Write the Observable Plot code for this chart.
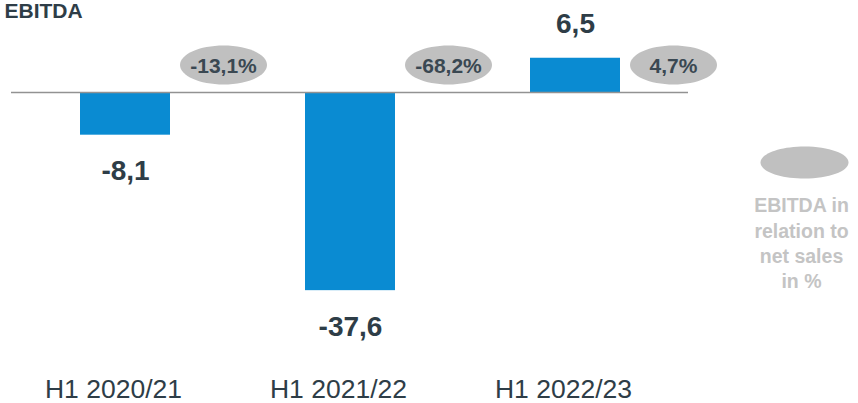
<!DOCTYPE html>
<html>
<head>
<meta charset="utf-8">
<script src="https://cdn.jsdelivr.net/npm/d3@7"></script>
<script src="https://cdn.jsdelivr.net/npm/@observablehq/plot@0.6"></script>
<style>
  html, body { margin: 0; padding: 0; background: #fff; }
  #chart { width: 858px; height: 403px; overflow: hidden; }
</style>
</head>
<body>
<div id="chart"></div>
<script>
const title = "EBITDA";
const periods = ["H1 2020/21", "H1 2021/22", "H1 2022/23"];
const ebitda = [-8.1, -37.6, 6.5];
const margins = [-13.1, -68.2, 4.7];
const legendText = "EBITDA in\nrelation to\nnet sales\nin %";

const fmt = v => v.toFixed(1).replace(".", ",");
const data = periods.map((p, i) => ({period: p, value: ebitda[i], pct: margins[i]}));

function ellipseSymbol(rx, ry) {
  const k = 0.5523;
  return {
    draw(ctx) {
      const kx = rx * k, ky = ry * k;
      ctx.moveTo(rx, 0);
      ctx.bezierCurveTo(rx, ky, kx, ry, 0, ry);
      ctx.bezierCurveTo(-kx, ry, -rx, ky, -rx, 0);
      ctx.bezierCurveTo(-rx, -ky, -kx, -ry, 0, -ry);
      ctx.bezierCurveTo(kx, -ry, rx, -ky, rx, 0);
      ctx.closePath();
    }
  };
}

const dark = "#2e3d47";
const grayFill = "#c0c0c0";

const chart = Plot.plot({
  width: 858,
  height: 403,
  marginLeft: 11,
  marginRight: 170,
  marginTop: 0,
  marginBottom: 0,
  style: {fontFamily: "'Liberation Sans', Arial, sans-serif", background: "#fff", overflow: "visible"},
  x: {domain: periods, paddingInner: 0.6, paddingOuter: 0.3, axis: null},
  y: {domain: [-50, 15], range: [355.5, 12.95], axis: null},
  marks: [
    Plot.barY(data, {x: "period", y: "value", fill: "#0a8bd2"}),
    Plot.ruleY([0], {stroke: "#929292", strokeWidth: 1.6}),
    // value labels
    Plot.text(data.filter(d => d.value < 0), {x: "period", y: "value", text: d => fmt(d.value),
      lineAnchor: "top", dy: 25, fontSize: 28, fontWeight: "bold", fill: dark}),
    Plot.text(data.filter(d => d.value >= 0), {x: "period", y: "value", text: d => fmt(d.value),
      lineAnchor: "bottom", dy: -25, fontSize: 28, fontWeight: "bold", fill: dark}),
    // percentage ellipses
    Plot.dot(data, {x: "period", frameAnchor: "top", dy: 64.5, dx: 98,
      symbol: ellipseSymbol(43.5, 19.5), r: 10, fill: grayFill, stroke: "none"}),
    Plot.text(data, {x: "period", frameAnchor: "top", lineAnchor: "middle", dy: 65.5, dx: 98, text: d => fmt(d.pct) + "%",
      fontSize: 21, fontWeight: "bold", fill: "#3a4852"}),
    // category labels
    Plot.text(data, {x: "period", text: "period", frameAnchor: "bottom", lineAnchor: "bottom",
      dy: -6, dx: -12, fontSize: 26.5, fill: dark}),
    // legend
    Plot.dot([legendText], {frameAnchor: "top-right", dx: 116, dy: 162,
      symbol: ellipseSymbol(44, 16), r: 10, fill: grayFill, stroke: "none"}),
    Plot.text([legendText], {frameAnchor: "top-right", dx: 113, dy: 194, text: d => d,
      lineAnchor: "top", lineHeight: 1.29, textAnchor: "middle", fontSize: 19.5, fontWeight: "bold", fill: "#c4c4c4"}),
    // title
    Plot.text([title], {frameAnchor: "top-left", dx: -7, dy: 3, text: d => d, lineAnchor: "top",
      textAnchor: "start", fontSize: 21, fontWeight: "bold", fill: dark})
  ]
});
document.getElementById("chart").appendChild(chart);
</script>
</body>
</html>
